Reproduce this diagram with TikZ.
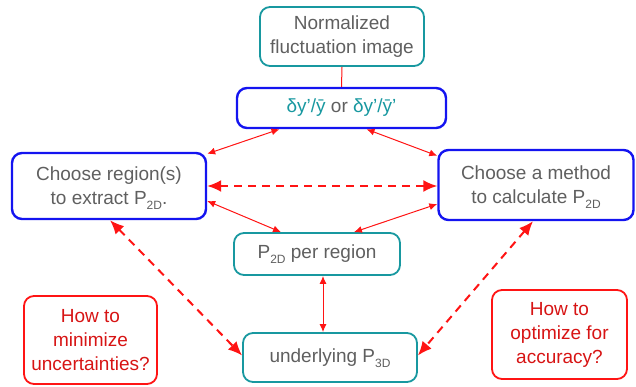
\documentclass[tikz,border=0pt]{standalone}
\usepackage{fontspec}
\setmainfont{Liberation Sans}
\usetikzlibrary{arrows.meta}

\definecolor{txtgray}{RGB}{95,95,95}
\definecolor{boxteal}{RGB}{24,152,160}
\definecolor{boxblue}{RGB}{20,20,240}
\definecolor{linkred}{RGB}{255,20,20}
\definecolor{qred}{RGB}{215,20,20}

% lowered subscript as in the slide
\newcommand{\sbs}[1]{\raisebox{-5pt}[0pt][0pt]{\fontsize{12}{12}\selectfont #1}}

\begin{document}
\begin{tikzpicture}[x=1pt, y=-1pt,
  box/.style={draw, rounded corners=10pt, line width=1.8pt, align=center,
    text=txtgray, inner sep=0pt, font=\fontsize{19}{24}\selectfont},
  tealbox/.style={box, draw=boxteal},
  bluebox/.style={box, draw=boxblue, line width=2.4pt},
  qbox/.style={box, draw=linkred, text=qred},
  link/.style={linkred, line width=1pt, {Latex[length=8pt,width=7pt]}-{Latex[length=8pt,width=7pt]}},
  dlink/.style={linkred, line width=2pt, dash pattern=on 8pt off 6pt,
    {Latex[length=14pt,width=12pt]}-{Latex[length=14pt,width=12pt]}}]
  \useasboundingbox (0,0) rectangle (636,387);

  % blocks
  \node[tealbox, minimum width=164pt, minimum height=59pt] (norm) at (342,36.5) {Normalized\\fluctuation image};
  \node[bluebox, minimum width=209pt, minimum height=40pt] (delta) at (341.5,108)
    {\textcolor{boxteal}{δy’/\={y}} or \textcolor{boxteal}{δy’/\={y}’}};
  \node[bluebox, minimum width=194pt, minimum height=66pt] (region) at (109,186) {Choose region(s)\\to extract P\sbs{2D}.};
  \node[bluebox, minimum width=195pt, minimum height=70pt] (method) at (536,185) {Choose a method\\to calculate P\sbs{2D}};
  \node[tealbox, minimum width=166pt, minimum height=42pt] (p2d) at (317,254) {P\sbs{2D} per region};
  \node[tealbox, minimum width=174pt, minimum height=49pt] (p3d) at (330,357.5) {underlying P\sbs{3D}};

  % questions
  \node[qbox, minimum width=133pt, minimum height=88pt] (minim) at (90.5,340) {How to\\minimize\\uncertainties?};
  \node[qbox, minimum width=135pt, minimum height=89pt] (optim) at (559.5,334.5) {How to\\optimize for\\accuracy?};

  % arrows
  \draw[linkred, line width=1pt] (norm.south) -- (delta.north);
  \draw[link] ([xshift=-62pt]delta.south) -- ([yshift=-2pt]region.north east);
  \draw[link] ([xshift=25pt]delta.south) -- ([yshift=-7pt]method.north west);
  \draw[dlink] (region.east) -- (region.east -| method.west);
  \draw[link] ([yshift=-15pt]region.east) -- ([xshift=-36pt]p2d.north);
  \draw[link] ([yshift=-19pt]method.west) -- ([xshift=37pt]p2d.north);
  \draw[link] ([xshift=6pt]p2d.south) -- ([xshift=-7pt]p3d.north);
  \draw[dlink] ([xshift=1pt]region.south) -- ([yshift=2pt]p3d.west);
  \draw[dlink] ([xshift=-3pt]method.south) -- ([yshift=2pt]p3d.east);
\end{tikzpicture}
\end{document}
